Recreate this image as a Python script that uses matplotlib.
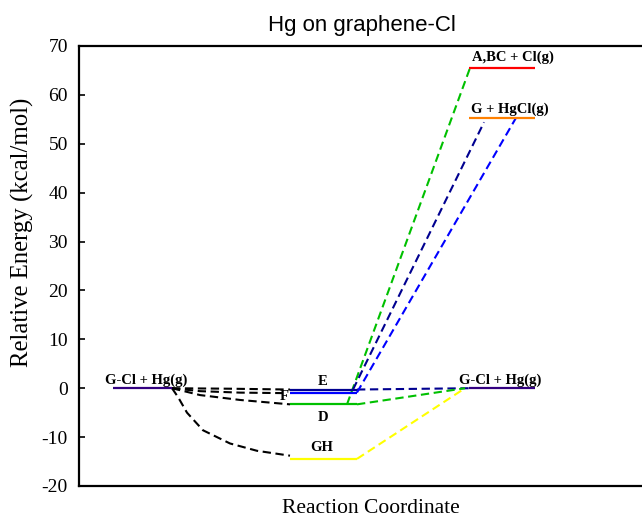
import matplotlib
matplotlib.use("Agg")
import matplotlib.pyplot as plt

plt.rcParams["axes.unicode_minus"] = False

# ---------------- data ----------------
yticks = [-20, -10, 0, 10, 20, 30, 40, 50, 60, 70]

# energy levels (kcal/mol)
level_names = ["G-Cl + Hg(g) left", "E (navy)", "E (blue)", "D", "GH",
               "G-Cl + Hg(g) right", "A,BC + Cl(g)", "G + HgCl(g)"]
level_energy = [0.0, -0.27, -0.88, -3.3, -14.45, 0.0, 65.5, 55.3]
level_x0 = [113, 290, 290, 290, 290, 469, 469, 469]
level_x1 = [172, 357, 357, 357, 357, 535, 535, 535]
level_colors = ["#330080", "#000090", "#0000ff", "#00c000", "#ffff00",
                "#330080", "#ff0000", "#ff8000"]

# dashed connectors (x in reaction-coordinate units, y in kcal/mol)
path_E_x = [172, 230, 290]
path_E_y = [0.0, -0.1, -0.27]
path_F_x = [172, 200, 240, 283]
path_F_y = [0.0, -0.6, -0.9, -1.0]
path_D_x = [172, 200, 240, 290]
path_D_y = [0.0, -1.4, -2.4, -3.3]
path_GH_x = [172, 178, 187, 203, 230, 257, 290]
path_GH_y = [0.0, -1.8, -5.0, -8.6, -11.3, -12.8, -13.8]

conn_navy_flat_x = [357, 470]
conn_navy_flat_y = [-0.27, 0.0]
conn_green_flat_x = [357, 465]
conn_green_flat_y = [-3.3, 0.0]
conn_yellow_x = [357, 465]
conn_yellow_y = [-14.45, 0.0]
conn_green_up_x = [347, 470]
conn_green_up_y = [-3.3, 65.5]
conn_navy_up_x = [353, 484]
conn_navy_up_y = [-0.27, 54.4]
conn_blue_up_x = [357, 516]
conn_blue_up_y = [-0.88, 55.3]

label_texts = ["G-Cl + Hg(g)", "E", "F", "D", "GH", "G-Cl + Hg(g)",
               "A,BC + Cl(g)", "G + HgCl(g)"]
label_x = [146, 323, 284, 323, 322, 500, 513, 510]
label_y = [0.8, 0.6, -2.5, -6.75, -12.9, 0.8, 66.9, 56.4]

# ---------------- figure ----------------
W, H = 642, 517
fig = plt.figure(figsize=(W / 100, H / 100), dpi=100)
ax = fig.add_axes([79 / W, 31 / H, 564 / W, 440 / H])
ax.set_xlim(79, 643)
ax.set_ylim(-20, 70)

serif = ["Liberation Serif", "DejaVu Serif"]
sans = ["Liberation Sans", "DejaVu Sans"]

lw_level = 1.6
for x0, x1, y, c in zip(level_x0, level_x1, level_energy, level_colors):
    ax.plot([x0, x1], [y, y], color=c, lw=lw_level, solid_capstyle="butt", zorder=3)

dash = dict(lw=1.5, dashes=(4, 2.2), zorder=2)
for xs, ys in [(path_E_x, path_E_y), (path_F_x, path_F_y),
               (path_D_x, path_D_y), (path_GH_x, path_GH_y)]:
    ax.plot(xs, ys, color="black", **dash)

ax.plot(conn_navy_flat_x, conn_navy_flat_y, color="#000090", **dash)
ax.plot(conn_green_flat_x, conn_green_flat_y, color="#00c000", **dash)
ax.plot(conn_yellow_x, conn_yellow_y, color="#ffff00", **dash)
ax.plot(conn_green_up_x, conn_green_up_y, color="#00c000", **dash)
ax.plot(conn_navy_up_x, conn_navy_up_y, color="#000090", **dash)
ax.plot(conn_blue_up_x, conn_blue_up_y, color="#0000ff", **dash)

for t, x, y in zip(label_texts, label_x, label_y):
    ax.text(x, y, t, ha="center", va="baseline", fontsize=10.5,
            fontweight="bold", family=serif, zorder=4)

ax.set_yticks(yticks)
ax.set_xticks([])
ax.tick_params(axis="y", direction="in", length=4, width=1.2, pad=8,
               labelsize=14)
for lab in ax.get_yticklabels():
    lab.set_family(serif)

for s in ["left", "top", "bottom"]:
    ax.spines[s].set_linewidth(1.6)
ax.spines["right"].set_visible(False)

fig.text(361.5 / W, 1 - 31 / H, "Hg on graphene-Cl", ha="center",
         va="baseline", fontsize=16, family=sans)
fig.text(371 / W, 1 - 513 / H, "Reaction Coordinate", ha="center",
         va="baseline", fontsize=15.5, family=serif)
fig.text(22 / W, 1 - 232 / H, "Relative Energy (kcal/mol)", ha="center",
         va="center", rotation=90, fontsize=17.8, family=serif)

fig.savefig("out.png", dpi=100)
